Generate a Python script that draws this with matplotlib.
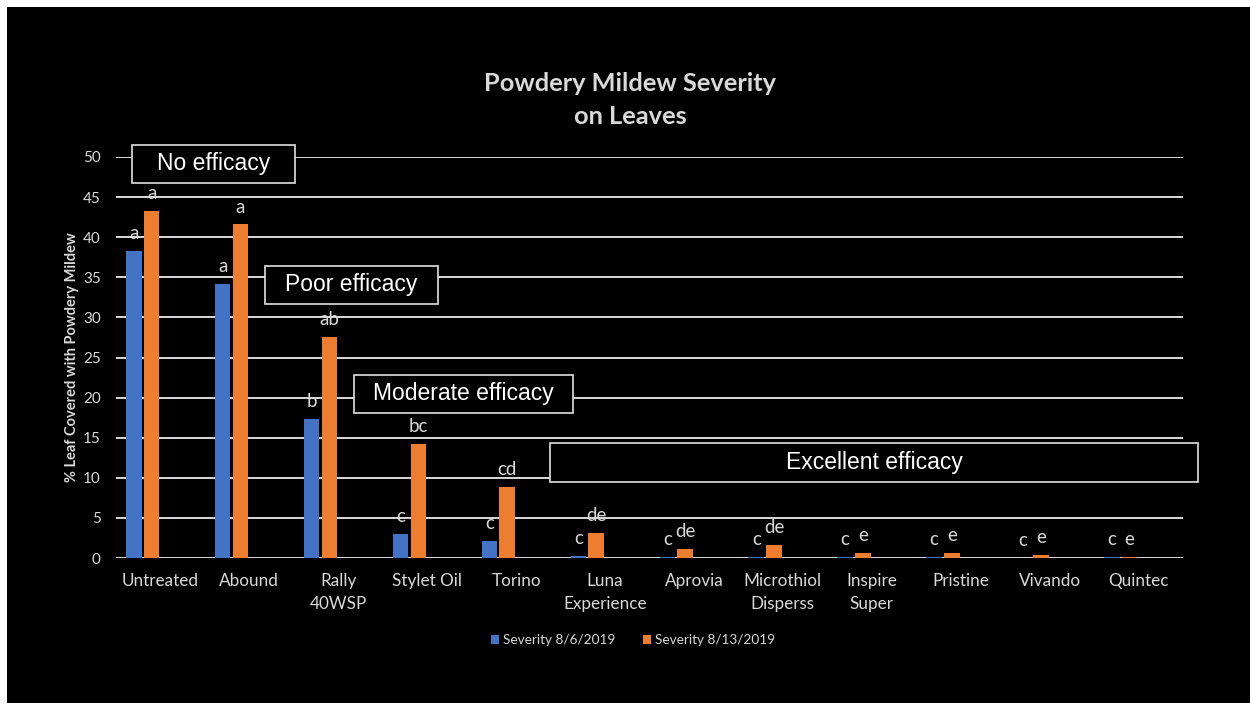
import numpy as np
import matplotlib
matplotlib.use("Agg")
import matplotlib.pyplot as plt
from matplotlib.patches import Rectangle

# data
products = ["Untreated", "Abound", "Rally\n40WSP", "Stylet Oil", "Torino",
            "Luna\nExperience", "Aprovia", "Microthiol\nDisperss", "Inspire\nSuper",
            "Pristine", "Vivando", "Quintec"]
sev_aug6 = [38.3, 34.2, 17.3, 3.0, 2.1, 0.25, 0.1, 0.1, 0.1, 0.1, 0.05, 0.1]
sev_aug13 = [43.3, 41.6, 27.6, 14.2, 8.9, 3.1, 1.1, 1.6, 0.65, 0.65, 0.4, 0.15]
letters_aug6 = ["a", "a", "b", "c", "c", "c", "c", "c", "c", "c", "c", "c"]
letters_aug13 = ["a", "a", "ab", "bc", "cd", "de", "de", "de", "e", "e", "e", "e"]
legend_names = ["Severity 8/6/2019", "Severity 8/13/2019"]

# efficacy boxes: label, x0, x1, y_bottom, y_top (data units)
boxes = [
    ("No efficacy", -0.32, 1.51, 46.8, 51.5),
    ("Poor efficacy", 1.18, 3.12, 31.7, 36.4),
    ("Moderate efficacy", 2.18, 4.64, 18.1, 22.8),
    ("Excellent efficacy", 4.38, 11.67, 9.5, 14.3),
]

blue = "#4472C4"
orange = "#ED7D31"
txt = "#D9D9D9"
font = ["Lato", "DejaVu Sans"]

fig = plt.figure(figsize=(12.5, 7.05), dpi=100, facecolor="white")
fig.patches.append(Rectangle((7 / 1250, 2 / 705), 1 - 7 / 1250, 696 / 705,
                             transform=fig.transFigure, facecolor="black",
                             edgecolor="none", zorder=-10))

ax = fig.add_axes([116 / 1250, 147 / 705, 1067 / 1250, 401 / 705])
ax.set_facecolor("black")

x = np.arange(len(products))
step = 0.2
w = 0.175
b1 = ax.bar(x - 1.5 * step, sev_aug6, w, color=blue, label=legend_names[0], zorder=3)
b2 = ax.bar(x - 0.5 * step, sev_aug13, w, color=orange, label=legend_names[1], zorder=3)

for bars, labs in [(b1, letters_aug6), (b2, letters_aug13)]:
    for r, lab in zip(bars, labs):
        ax.annotate(lab, (r.get_x() + r.get_width() / 2, r.get_height()),
                    xytext=(0, 12.5), textcoords="offset points", ha="center",
                    va="center", color=txt, fontsize=13.5, family=font, zorder=5)

ax.set_ylim(0, 50)
ax.set_xlim(-0.5, len(products) - 0.5)
ax.set_yticks(np.arange(0, 51, 5))
ax.yaxis.grid(True, color="white", linewidth=1.2, zorder=1)
ax.set_axisbelow(True)
for s in ax.spines.values():
    s.set_visible(False)
ax.tick_params(length=0, colors=txt)
ax.tick_params(axis="y", pad=11, labelsize=11)
ax.tick_params(axis="x", pad=11, labelsize=12.3)
ax.set_xticks(x)
ax.set_xticklabels(products, family=font, color=txt, linespacing=1.55)
for t in ax.get_yticklabels():
    t.set_family(font)
ax.set_ylabel("% Leaf Covered with Powdery Mildew", color=txt, fontsize=10.5,
              fontweight="bold", family=font, labelpad=3)

for label, x0, x1, y0, y1 in boxes:
    ax.add_patch(Rectangle((x0, y0), x1 - x0, y1 - y0, facecolor="black",
                           edgecolor="#E0E0E0", linewidth=1.2, zorder=6,
                           clip_on=False))
    ax.text((x0 + x1) / 2, (y0 + y1) / 2, label, ha="center", va="center",
            color="white", fontsize=16.5, family="Liberation Sans", zorder=7,
            clip_on=False)

fig.text(630 / 1250, 605 / 705, "Powdery Mildew Severity\non Leaves", ha="center",
         va="center", color=txt, fontsize=18.3, fontweight="bold", family=font,
         linespacing=1.55)

leg = ax.legend(loc="center", bbox_to_anchor=(633 / 1250, 65 / 705),
                bbox_transform=fig.transFigure, ncol=2, frameon=False,
                handlelength=0.6, handleheight=0.6,
                handletextpad=0.3, columnspacing=2.0, prop={"family": font, "size": 9.8})
for t in leg.get_texts():
    t.set_color(txt)

fig.savefig("out.png", dpi=100, facecolor=fig.get_facecolor())
